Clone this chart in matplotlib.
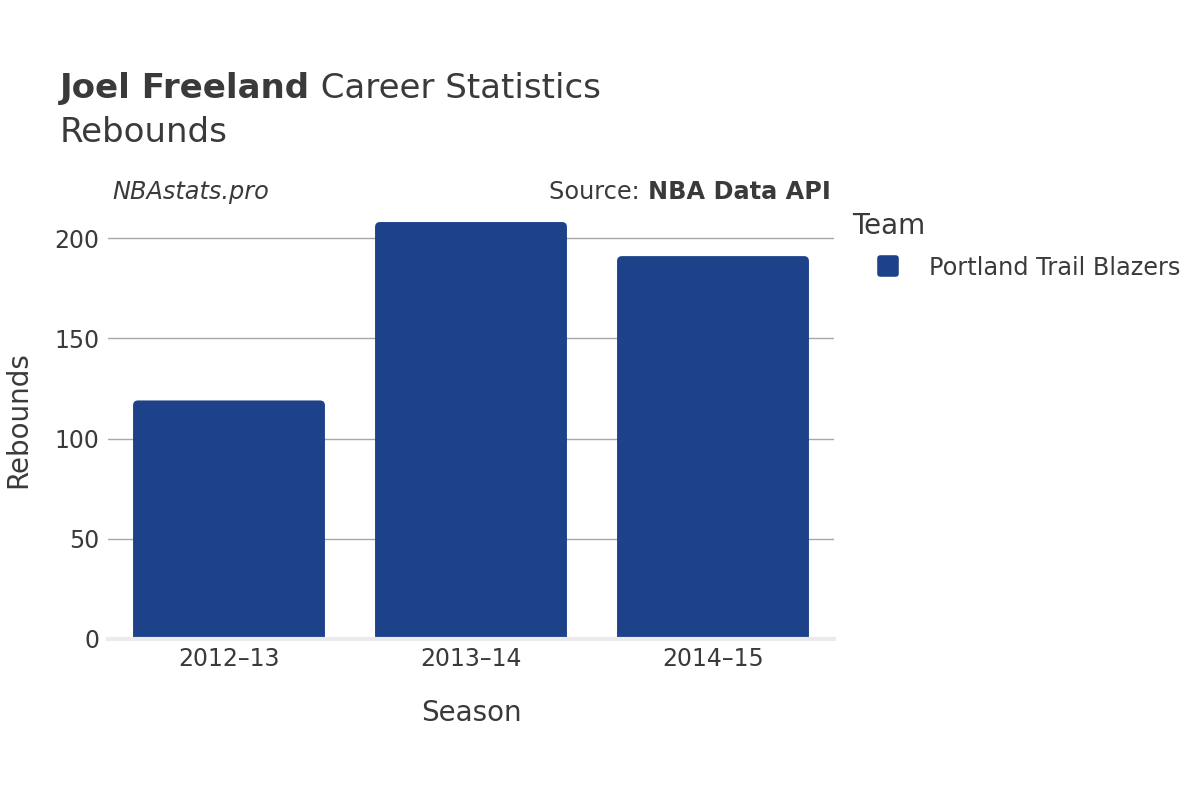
import matplotlib
matplotlib.use("Agg")
from matplotlib import pyplot as plt
from matplotlib.patches import FancyBboxPatch
from matplotlib.lines import Line2D
from matplotlib.markers import MarkerStyle

seasons = ["2012\u201313", "2013\u201314", "2014\u201315"]
rebounds = [119, 208, 191]
team = "Portland Trail Blazers"
bar_color = "#1d428a"
text_color = "#3a3a3a"

plt.rcParams['font.family'] = ['DejaVu Sans']

fig = plt.figure(figsize=(12, 8), dpi=100)
ax = fig.add_axes([0.09, 0.20125, 0.605, 0.53875])

ax.set_xlim(-0.5, 2.5)
ax.set_ylim(0, 215)

# rounded-top bars (bottom corners hidden below zero)
width = 0.793
x_px = 726 / 3.0          # pixels per x unit
y_px = 401 / 200.0        # pixels per y unit
r_px = 5
for i, v in enumerate(rebounds):
    p = FancyBboxPatch((i - width / 2, -10), width, v + 10,
                       boxstyle="round,pad=0,rounding_size=%f" % (r_px / x_px),
                       mutation_aspect=x_px / y_px,
                       facecolor=bar_color, edgecolor="none", zorder=3)
    ax.add_patch(p)

ax.set_yticks([0, 50, 100, 150, 200])
ax.set_xticks(range(len(seasons)))
ax.set_xticklabels(seasons)
ax.grid(axis="y", color="#a8a8a8", linewidth=1)
ax.set_axisbelow(True)
ax.axhline(0, color="#ebebeb", linewidth=3, zorder=4, clip_on=False)
for s in ax.spines.values():
    s.set_visible(False)
ax.tick_params(length=0, labelsize=17, labelcolor=text_color, pad=6)

ax.set_xlabel("Season", fontsize=20, color=text_color)
ax.xaxis.set_label_coords(0.5, -0.14)
ax.set_ylabel("Rebounds", fontsize=20, color=text_color)
ax.yaxis.set_label_coords(-0.105, 0.51)

t1 = fig.text(0.05, 0.889, "Joel Freeland", fontsize=24.5, fontweight="bold",
              color=text_color, va="center")
fig.canvas.draw()
bb = t1.get_window_extent()
fig.text(bb.x1 / fig.bbox.width, 0.889, " Career Statistics", fontsize=24.5,
         color=text_color, va="center")
fig.text(0.05, 0.835, "Rebounds", fontsize=24.5, color=text_color, va="center")

fig.text(0.094, 0.76, "NBAstats.pro", fontsize=17.3, style="italic",
         color=text_color, va="center")
src = fig.text(0.692, 0.76, "NBA Data API", fontsize=17.3, fontweight="bold",
               color=text_color, va="center", ha="right")
fig.canvas.draw()
bb = src.get_window_extent()
fig.text(bb.x0 / fig.bbox.width, 0.76, "Source: ", fontsize=17.3,
         color=text_color, va="center", ha="right")

handle = Line2D([], [], marker=MarkerStyle("s", joinstyle="round"),
                linestyle="none", markersize=12, markeredgewidth=4,
                markerfacecolor=bar_color, markeredgecolor=bar_color)
leg = fig.legend([handle], [team], loc="upper left",
                 bbox_to_anchor=(0.71, 0.735), frameon=False,
                 title="Team", fontsize=17.3, title_fontsize=20,
                 handlelength=3.0, handletextpad=0.2, borderpad=0,
                 borderaxespad=0, labelspacing=0.65)
leg._legend_box.align = "left"
leg.get_title().set_color(text_color)
for t in leg.get_texts():
    t.set_color(text_color)

fig.savefig("out.png", dpi=100, facecolor="white")
